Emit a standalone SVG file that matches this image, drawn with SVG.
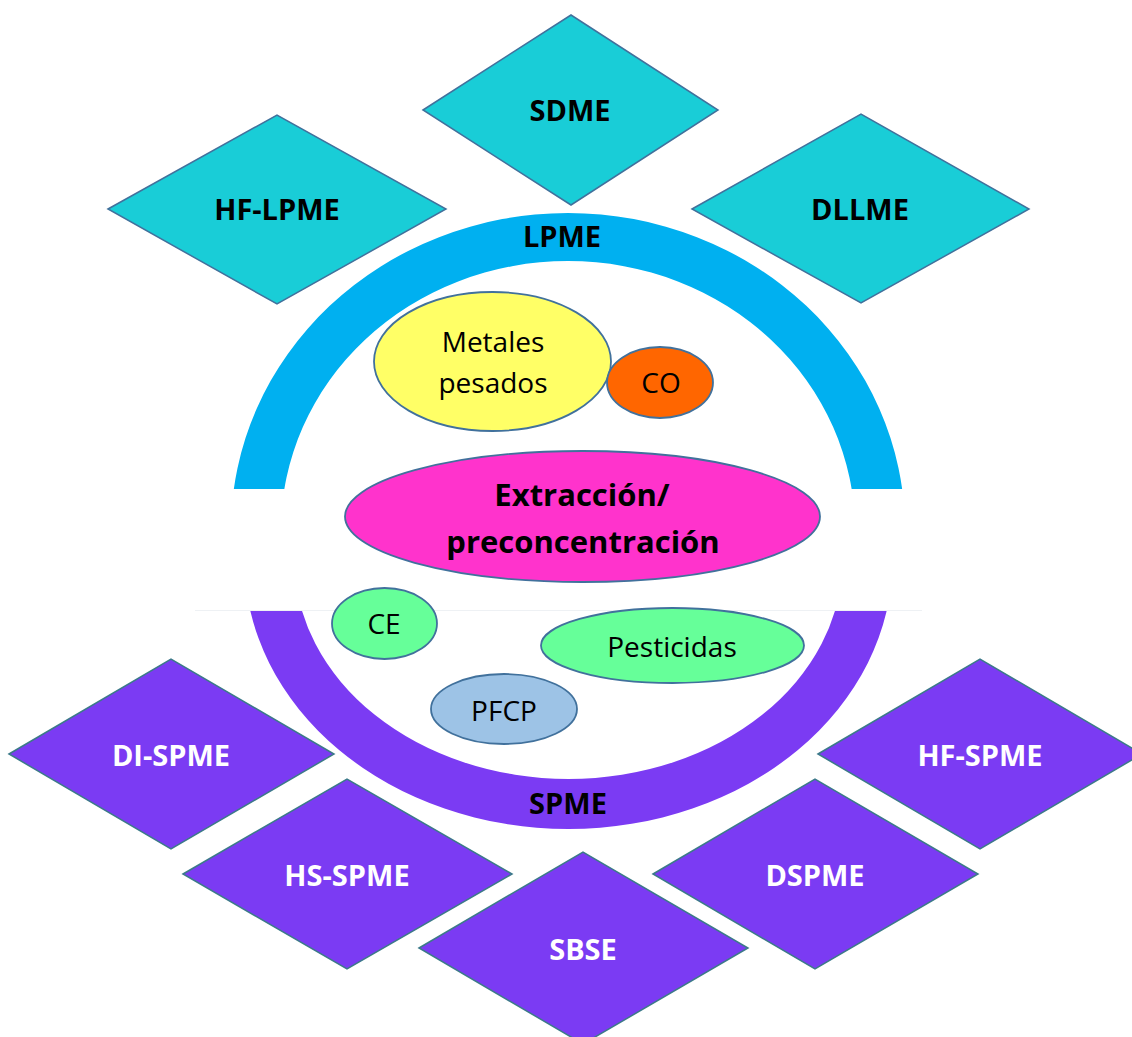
<svg xmlns="http://www.w3.org/2000/svg" width="1132" height="1037" viewBox="0 0 1132 1037">
  <defs>
    <style>
      .cy { fill: #19CDD7; stroke: #41719C; stroke-width: 1.5; }
      .pu { fill: #7B3BF3; stroke: #3C7A89; stroke-width: 1.5; }
      .ov { stroke: #41719C; stroke-width: 1.8; }
      .lb { font-family: "Open Sans", "Liberation Sans", sans-serif; font-weight: 700; font-size: 29px; text-anchor: middle; }
      .dk { fill: #000000; }
      .wh { fill: #FFFFFF; }
      .rg { font-family: "Open Sans", "Liberation Sans", sans-serif; font-weight: 400; font-size: 28px; text-anchor: middle; fill: #000000; }
    </style>
    <clipPath id="clipTop"><rect x="0" y="0" width="1132" height="489"/></clipPath>
    <clipPath id="clipBottom"><rect x="0" y="611" width="1132" height="426"/></clipPath>
  </defs>

  <rect x="0" y="0" width="1132" height="1037" fill="#FFFFFF"/>

  <!-- LPME arch -->
  <g id="lpme-arch">
    <path clip-path="url(#clipTop)" fill="#00B0F0" d="M 231,530 A 337 317 0 0 1 905,530 L 855,530 A 287 269 0 0 0 281,530 Z"/>
    <text class="lb dk" x="562" y="247">LPME</text>
  </g>

  <!-- SPME arch -->
  <g id="spme-arch">
    <line x1="195" y1="610.5" x2="922" y2="610.5" stroke="#EEF1F4" stroke-width="1"/>
    <path clip-path="url(#clipBottom)" fill="#7B3BF3" d="M 244.5,560 A 324 269 0 0 0 892.5,560 L 842.5,560 A 274 219 0 0 1 294.5,560 Z"/>
    <text class="lb dk" x="568" y="814">SPME</text>
  </g>

  <!-- LPME diamonds -->
  <g id="sdme">
    <polygon class="cy" points="423,110 571,15 718,110 571,205"/>
    <text class="lb dk" x="570" y="121">SDME</text>
  </g>
  <g id="hf-lpme">
    <polygon class="cy" points="108,209 277,115 446,209 277,304"/>
    <text class="lb dk" x="277" y="220">HF-LPME</text>
  </g>
  <g id="dllme">
    <polygon class="cy" points="692,209 861,114 1029,209 861,303"/>
    <text class="lb dk" x="860" y="220">DLLME</text>
  </g>

  <!-- SPME diamonds -->
  <g id="di-spme">
    <polygon class="pu" points="9,754 171,659 334,754 171,849"/>
    <text class="lb wh" x="171" y="766">DI-SPME</text>
  </g>
  <g id="hs-spme">
    <polygon class="pu" points="183,874 347,779 512,874 347,969"/>
    <text class="lb wh" x="347" y="886">HS-SPME</text>
  </g>
  <g id="sbse">
    <polygon class="pu" points="419,948 583,852 748,948 583,1044"/>
    <text class="lb wh" x="583" y="960">SBSE</text>
  </g>
  <g id="dspme">
    <polygon class="pu" points="653,874 815,779 978,874 815,969"/>
    <text class="lb wh" x="815" y="886">DSPME</text>
  </g>
  <g id="hf-spme">
    <polygon class="pu" points="818,754 980,659 1142,754 980,849"/>
    <text class="lb wh" x="980" y="766">HF-SPME</text>
  </g>

  <!-- inner ellipses -->
  <g id="metales-pesados">
    <ellipse class="ov" cx="492.5" cy="361.5" rx="118.5" ry="69.5" fill="#FFFF66"/>
    <text class="rg" x="493" y="352">Metales</text>
    <text class="rg" x="493" y="393">pesados</text>
  </g>
  <g id="co">
    <ellipse class="ov" cx="660" cy="382.5" rx="53" ry="35.5" fill="#FF6600"/>
    <text class="rg" x="661" y="393">CO</text>
  </g>
  <g id="extraccion">
    <ellipse class="ov" cx="582.5" cy="516.5" rx="237.5" ry="65.5" fill="#FF33CC"/>
    <text class="lb dk" style="font-size:31px" x="582" y="506">Extracción/</text>
    <text class="lb dk" style="font-size:31px" x="583" y="553">preconcentración</text>
  </g>
  <g id="ce">
    <ellipse class="ov" cx="384.5" cy="623.5" rx="52.5" ry="35.5" fill="#66FF99"/>
    <text class="rg" x="384" y="634">CE</text>
  </g>
  <g id="pesticidas">
    <ellipse class="ov" cx="672.5" cy="645.5" rx="131.5" ry="37.5" fill="#66FF99"/>
    <text class="rg" x="672" y="657">Pesticidas</text>
  </g>
  <g id="pfcp">
    <ellipse class="ov" cx="504" cy="709" rx="73" ry="35" fill="#9DC3E6"/>
    <text class="rg" x="504" y="721">PFCP</text>
  </g>

  <g id="connectors"/>
</svg>
